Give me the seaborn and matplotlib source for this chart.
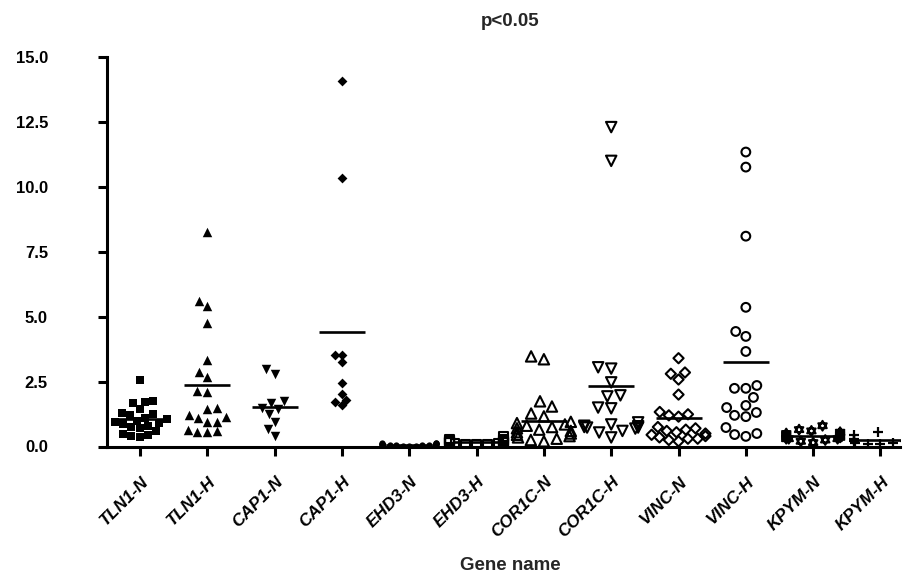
import pandas as pd
import seaborn as sns
import matplotlib.pyplot as plt
from matplotlib.path import Path
from matplotlib.transforms import ScaledTranslation

# Categorie (geni) e valori
genes = ['TLN1-N', 'TLN1-H', 'CAP1-N', 'CAP1-H', 'EHD3-N', 'EHD3-H',
         'COR1C-N', 'COR1C-H', 'VINC-N', 'VINC-H', 'KPYM-N', 'KPYM-H']

tln1_n = [2.58, 1.72, 1.66, 1.77, 1.45, 1.3, 1.25, 1.2, 1.1, 1.05, 1.0,
          0.95, 0.9, 0.85, 0.8, 0.75, 0.7, 0.6, 0.5, 0.45, 0.4, 0.35]
tln1_h = [8.25, 5.4, 5.59, 4.74, 3.32, 2.85, 2.66, 2.08, 2.12, 1.43, 1.5,
          1.23, 1.12, 0.96, 1.08, 0.96, 0.58, 0.54, 0.62, 0.54]
cap1_n = [2.78, 2.97, 1.66, 1.74, 1.43, 1.27, 1.5, 0.96, 0.66, 0.39]
cap1_h = [14.08, 10.34, 3.51, 3.24, 3.51, 2.43, 2.04, 1.81, 1.58, 1.7]
ehd3_n = [0.15, 0.12, 0.1, 0.1, 0.08, 0.08, 0.07, 0.06, 0.06, 0.05, 0.05,
          0.04, 0.04, 0.03, 0.03, 0.02, 0.12, 0.09]
ehd3_h = [0.38, 0.3, 0.28, 0.25, 0.22, 0.2, 0.2, 0.18, 0.17, 0.15, 0.15,
          0.13, 0.12, 0.1, 0.1, 0.08, 0.25, 0.22, 0.18, 0.15]
cor1c_n = [3.47, 3.36, 1.74, 1.54, 1.27, 1.16, 0.95, 0.9, 0.85, 0.8, 0.75,
           0.7, 0.65, 0.6, 0.55, 0.5, 0.45, 0.4, 0.35, 0.3, 0.25, 0.2]
cor1c_h = [12.3, 11.0, 3.05, 3.0, 2.47, 1.93, 1.97, 1.47, 1.5, 0.93, 0.85,
           0.73, 0.73, 0.69, 0.6, 0.54, 0.35, 0.8, 0.78, 0.75]
vinc_n = [3.4, 2.8, 2.85, 2.58, 2.0, 1.33, 1.24, 1.2, 1.15, 0.75, 0.7, 0.65,
          0.6, 0.55, 0.5, 0.45, 0.4, 0.35, 0.3, 0.25, 0.3, 0.2]
vinc_h = [11.34, 10.76, 8.1, 5.36, 4.43, 4.24, 3.66, 2.35, 2.24, 2.24, 1.89,
          1.58, 1.5, 1.31, 1.2, 1.15, 0.73, 0.5, 0.39, 0.46]
kpym_n = [0.8, 0.65, 0.6, 0.55, 0.5, 0.45, 0.45, 0.4, 0.35, 0.35, 0.3, 0.3,
          0.25, 0.2, 0.15, 0.4, 0.5, 0.3]
kpym_h = [0.55, 0.45, 0.35, 0.3, 0.25, 0.2, 0.2, 0.15, 0.15, 0.1, 0.1, 0.3, 0.25]

series = [tln1_n, tln1_h, cap1_n, cap1_h, ehd3_n, ehd3_h,
          cor1c_n, cor1c_h, vinc_n, vinc_h, kpym_n, kpym_h]

df = pd.concat([pd.DataFrame({'gene': g, 'value': v}) for g, v in zip(genes, series)],
               ignore_index=True)

# stella a sei punte (due triangoli)
hexagram = Path([(0, 1), (-0.866, -0.5), (0.866, -0.5), (0, 1),
                 (0, -1), (0.866, 0.5), (-0.866, 0.5), (0, -1)],
                [Path.MOVETO, Path.LINETO, Path.LINETO, Path.CLOSEPOLY,
                 Path.MOVETO, Path.LINETO, Path.LINETO, Path.CLOSEPOLY])

# simboli stile GraphPad: (marker, size, pieno)
styles = [('s', 6.0, True), ('^', 6.8, True), ('v', 6.8, True), ('D', 5.0, True),
          ('o', 4.5, True), ('s', 6.0, False), ('^', 7.5, False), ('v', 7.5, False),
          ('D', 5.2, False), ('o', 6.3, False), (hexagram, 7.0, False), ('+', 7.0, None)]

sns.set_theme(style='ticks')
plt.rcParams['font.family'] = ['Liberation Sans', 'DejaVu Sans']
plt.rcParams['font.weight'] = 'bold'

fig = plt.figure(figsize=(9.09, 5.81), dpi=100)
ax = fig.add_axes([107 / 909, 1 - 446.5 / 581, (900 - 107) / 909, (446.5 - 57) / 581])

for g, (m, sz, filled) in zip(genes, styles):
    sub = df[df['gene'] == g]
    if filled is None:
        sns.swarmplot(data=sub, x='gene', y='value', order=genes, marker=m, size=sz,
                      color='black', linewidth=1.6, ax=ax, zorder=3)
    elif filled:
        sns.swarmplot(data=sub, x='gene', y='value', order=genes, marker=m, size=sz,
                      color='black', linewidth=0, ax=ax, zorder=3)
    else:
        sns.swarmplot(data=sub, x='gene', y='value', order=genes, marker=m, size=sz,
                      color='black', facecolor='none', edgecolor='black',
                      linewidth=1.5, ax=ax, zorder=3)

# linea della media
sns.pointplot(data=df, x='gene', y='value', order=genes, estimator='mean',
              errorbar=None, color='black', marker='_', linestyle='none',
              markersize=33, markeredgewidth=1.9, ax=ax, zorder=4)

ax.set_xlim(-0.49, 11.29)
ax.set_ylim(0, 15)
ax.set_yticks([0, 2.5, 5, 7.5, 10, 12.5, 15])
ax.set_yticklabels([f'{t:.1f}' for t in [0, 2.5, 5, 7.5, 10, 12.5, 15]],
                   fontsize=12, fontweight='bold')
ax.set_xticks(range(len(genes)))
ax.set_xticklabels(genes, rotation=45, ha='right', va='center', rotation_mode='anchor',
                   fontsize=12.5, fontweight='bold', fontstyle='italic')
ax.tick_params(axis='both', direction='out', length=6.5, width=2.2, colors='black')
ax.tick_params(axis='x', pad=17)
ax.tick_params(axis='y', pad=36)
off = ScaledTranslation(6 / 100, 0, fig.dpi_scale_trans)
for lab in ax.get_xticklabels():
    lab.set_transform(lab.get_transform() + off)
for s in ['top', 'right']:
    ax.spines[s].set_visible(False)
for s in ['left', 'bottom']:
    ax.spines[s].set_linewidth(2.2)
    ax.spines[s].set_color('black')
ax.set_xlabel('')
ax.set_ylabel('')

fig.text(510 / 909, 1 - 22 / 581, 'p<0.05', ha='center', va='center',
         fontsize=13.5, fontweight='bold')
fig.text(510 / 909, 1 - 566 / 581, 'Gene name', ha='center', va='center',
         fontsize=13.5, fontweight='bold')

fig.savefig('out.png', dpi=100)
